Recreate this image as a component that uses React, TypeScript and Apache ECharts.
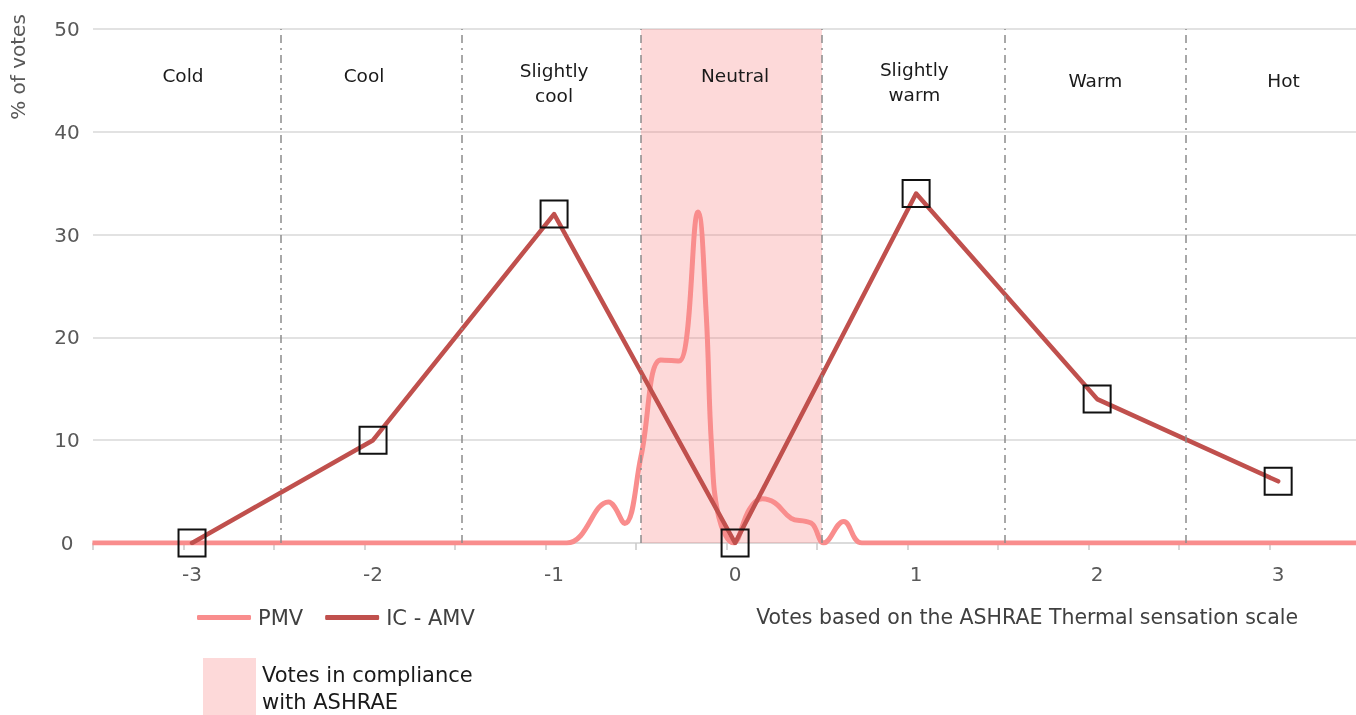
import React, { useEffect, useRef } from "react";
import * as echarts from "echarts";

// ---- data ----
const amvX = [-3, -2, -1, 0, 1, 2, 3];
const amvY = [0, 10, 32, 0, 34, 14, 6];

const pmvX = [-3.55, -1.5, -0.93, -0.7, -0.61, -0.52, -0.41, -0.31, -0.205, -0.16, -0.13, -0.09, -0.01, 0.08, 0.15, 0.22, 0.31, 0.39, 0.43, 0.49, 0.6, 0.7, 1.2, 3.45];
const pmvY = [0, 0, 0, 4.0, 1.9, 8.4, 17.8, 17.7, 32.2, 22.4, 9.4, 2.5, 0, 3.3, 4.3, 3.9, 2.4, 2.1, 1.8, 0, 2.1, 0, 0, 0];

const zoneNames = ["Cold", "Cool", "Slightly\ncool", "Neutral", "Slightly\nwarm", "Warm", "Hot"];
const zoneLabelX = [-3.05, -2.05, -1.0, 0.0, 0.99, 1.99, 3.03];
const zoneLabelY = [45.5, 45.5, 44.7, 45.5, 44.8, 45.0, 45.0];

const boundaryX = [-2.51, -1.51, -0.52, 0.48, 1.49, 2.49];
const complianceRange = [-0.52, 0.48];

const xLabelValues = [-3, -2, -1, 0, 1, 2, 3];
const xTickValues = [-3.547, -3.047, -2.547, -2.047, -1.547, -1.047, -0.547, -0.047, 0.453, 0.953, 1.453, 1.953, 2.453, 2.953];

const COL_PMV = "#f98d8d";
const COL_AMV = "#c0504d";
const FONT = "DejaVu Sans";

export default function App() {
  const ref = useRef<HTMLDivElement>(null);
  useEffect(() => {
    if (!ref.current) return;
    const chart = echarts.init(ref.current, null, { renderer: "svg" });
    const option: any = {
      animation: false,
      textStyle: { fontFamily: FONT },
      grid: { left: 93, right: 0, top: 29, bottom: 172 },
      xAxis: {
        type: "value",
        min: -3.547,
        max: 3.43,
        splitLine: { show: false },
        axisLine: { show: true, lineStyle: { color: "#d9d9d9", width: 1.5 } },
        axisTick: { show: true, length: 7, customValues: xTickValues, lineStyle: { color: "#c8c8c8", width: 1.5 } },
        axisLabel: { customValues: xLabelValues, margin: 21, fontSize: 20, color: "#595959", fontFamily: FONT },
      },
      yAxis: {
        type: "value",
        min: 0,
        max: 50,
        interval: 10,
        axisLine: { show: false },
        axisTick: { show: false },
        splitLine: { lineStyle: { color: "#d9d9d9", width: 1.5 } },
        axisLabel: { fontSize: 20, color: "#595959", align: "center", margin: 26, fontFamily: FONT, padding: [0, 0, 6, 0] },
      },
      legend: {
        left: 197,
        top: 607,
        padding: 0,
        icon: "roundRect",
        itemWidth: 54,
        itemHeight: 5,
        itemGap: 22,
        textStyle: { fontSize: 21, color: "#404040", fontFamily: FONT, padding: [0, 0, 0, 2] },
        data: [
          { name: "PMV", itemStyle: { color: COL_PMV, borderWidth: 0 } },
          { name: "IC - AMV", itemStyle: { color: COL_AMV, borderWidth: 0 } },
        ],
      },
      series: [
        {
          name: "zones",
          type: "scatter",
          z: 1,
          silent: true,
          symbolSize: 1,
          itemStyle: { color: "rgba(0,0,0,0)", opacity: 1 },
          data: zoneNames.map((n, i) => ({ name: n, value: [zoneLabelX[i], zoneLabelY[i]] })),
          label: {
            show: true,
            position: "inside",
            formatter: (p: any) => p.name,
            fontSize: 18.5,
            lineHeight: 25,
            color: "#1a1a1a",
            opacity: 1,
            textBorderWidth: 0,
            fontFamily: FONT,
          },
          markArea: {
            silent: true,
            itemStyle: { color: "rgba(248,120,120,0.28)" },
            data: [[{ xAxis: complianceRange[0], yAxis: 0 }, { xAxis: complianceRange[1], yAxis: 50 }]],
          },
          markLine: {
            silent: true,
            symbol: "none",
            label: { show: false },
            lineStyle: { color: "#8c8c8c", width: 1.5, type: [8, 5, 2, 5] },
            data: boundaryX.map((x) => ({ xAxis: x })),
          },
        },
        {
          name: "PMV",
          type: "line",
          z: 3,
          smooth: 0.4,
          showSymbol: false,
          symbol: "none",
          lineStyle: { color: COL_PMV, width: 5 },
          itemStyle: { color: COL_PMV },
          data: pmvX.map((x, i) => [x, pmvY[i]]),
        },
        {
          name: "IC - AMV",
          type: "line",
          z: 4,
          smooth: false,
          symbol: "rect",
          symbolSize: 27,
          lineStyle: { color: COL_AMV, width: 4.5, join: "round", cap: "round" },
          itemStyle: { color: "rgba(0,0,0,0)", borderColor: "#111111", borderWidth: 2 },
          data: amvX.map((x, i) => [x, amvY[i]]),
        },
      ],
      graphic: [
        {
          type: "text",
          x: 18,
          y: 67,
          rotation: Math.PI / 2,
          style: { text: "% of votes", fontSize: 20, fill: "#595959", fontFamily: FONT, align: "center", verticalAlign: "middle" },
        },
        {
          type: "text",
          x: 1298,
          y: 617,
          style: {
            text: "Votes based on the ASHRAE Thermal sensation scale",
            fontSize: 20.5,
            fill: "#404040",
            fontFamily: FONT,
            align: "right",
            verticalAlign: "middle",
          },
        },
        {
          type: "rect",
          shape: { x: 203, y: 658, width: 53, height: 57 },
          style: { fill: "#fdd9d9" },
        },
        {
          type: "text",
          x: 262,
          y: 661,
          style: {
            text: "Votes in compliance\nwith ASHRAE",
            fontSize: 21,
            lineHeight: 27,
            fill: "#1a1a1a",
            fontFamily: FONT,
            align: "left",
            verticalAlign: "top",
          },
        },
      ],
    };
    chart.setOption(option);
    return () => chart.dispose();
  }, []);
  return <div ref={ref} style={{ position: "fixed", left: 0, top: 0, width: 1356, height: 715 }} />;
}
